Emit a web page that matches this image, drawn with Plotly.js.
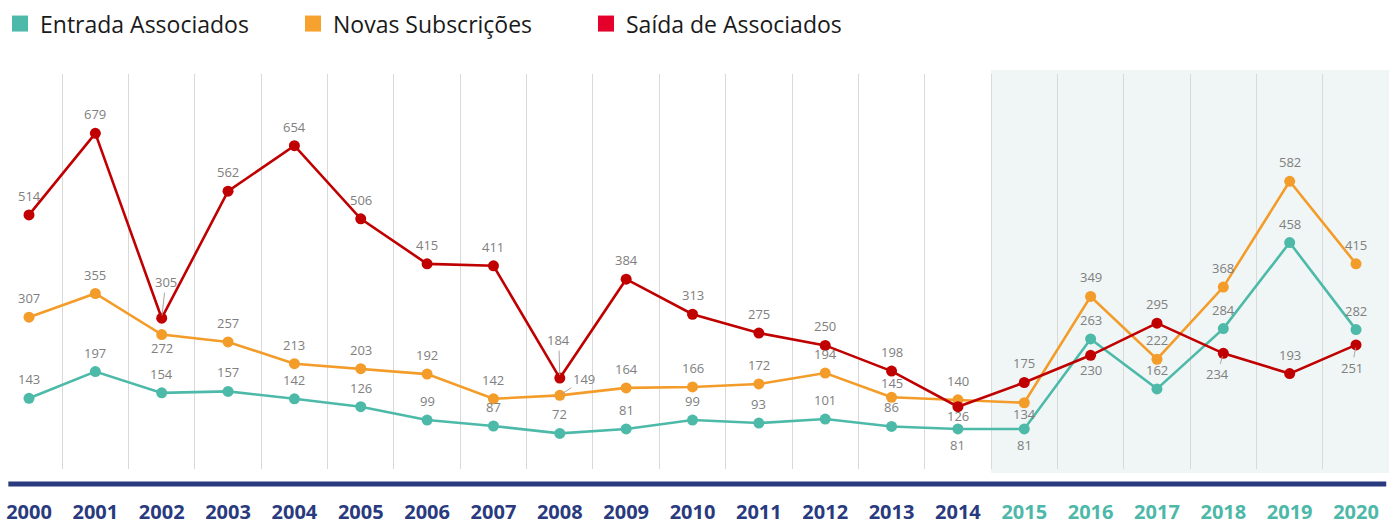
<!DOCTYPE html>
<html>
<head>
<meta charset="utf-8">
<script src="https://cdn.plot.ly/plotly-3.0.1.min.js"></script>
<style>html,body{margin:0;padding:0;background:#fff;}#chart{width:1389px;height:525px;}</style>
</head>
<body>
<div id="chart"></div>
<script>
// ---- data ----
const years = [2000,2001,2002,2003,2004,2005,2006,2007,2008,2009,2010,2011,2012,2013,2014,2015,2016,2017,2018,2019,2020];
const entrada = [143,197,154,157,142,126,99,87,72,81,99,93,101,86,81,81,263,162,284,458,282];
const novas   = [307,355,272,257,213,203,192,142,149,164,166,172,194,145,140,134,349,222,368,582,415];
const saida   = [514,679,305,562,654,506,415,411,184,384,313,275,250,198,126,175,230,295,234,193,251];
const seriesNames = ['Entrada Associados','Novas Subscrições','Saída de Associados'];
const highlightFrom = 2015;

// ---- styles ----
const lineColors = ['#4dbaa9','#f39c29','#c00000'];
const legendColors = ['#4dbaa9','#f7a12e','#e4002b'];
const navy = '#293a7e';
const labelFont = {family:'Open Sans, sans-serif', size:13, color:'#808080'};

// label placement tweaks (pixels): yshift or arrow offsets
const tweaks = {
  0: {2014:{ys:-16}, 2015:{ys:-16}},
  1: {2002:{ys:-13}, 2008:{ax:24, ay:-16}, 2013:{ys:14}, 2015:{ys:-11}},
  2: {2002:{ax:4, ay:-36}, 2008:{ax:-1, ay:-38}, 2014:{ys:-9}, 2016:{ys:-15}, 2018:{ax:-6, ay:21}, 2020:{ax:-4, ay:23}}
};

const allSeries = [entrada, novas, saida];
const traces = [];
allSeries.forEach((vals, s) => {
  traces.push({
    x: years, y: vals, type:'scatter', mode:'lines+markers',
    name: seriesNames[s], showlegend:false, cliponaxis:false,
    line:{color:lineColors[s], width:2.6},
    marker:{color:lineColors[s], size:11},
    hoverinfo:'x+y'
  });
});
// legend entries (square swatches)
seriesNames.forEach((n, s) => {
  traces.push({
    x:[null], y:[null], type:'scatter', mode:'markers', name:n,
    marker:{symbol:'square', size:16, color:legendColors[s]}, showlegend:true
  });
});

const annotations = [];
allSeries.forEach((vals, s) => {
  vals.forEach((v, i) => {
    const t = (tweaks[s] || {})[years[i]] || {};
    const a = {x: years[i], y: v, text: String(v), font: labelFont, xref:'x', yref:'y'};
    if (t.ax !== undefined) {
      Object.assign(a, {showarrow:true, arrowhead:0, arrowwidth:1, arrowcolor:'#a6a6a6', ax:t.ax, ay:t.ay, standoff:3});
    } else {
      Object.assign(a, {showarrow:false, yshift: t.ys !== undefined ? t.ys : 19});
    }
    annotations.push(a);
  });
});

const ticktext = years.map(y => y >= highlightFrom ? '<span style="color:#4db8a8">' + y + '</span>' : String(y));

const layout = {
  width:1389, height:525,
  margin:{l:0, r:0, t:74, b:56, pad:0},
  paper_bgcolor:'#ffffff', plot_bgcolor:'rgba(0,0,0,0)',
  font:{family:'Open Sans, sans-serif'},
  showlegend:true,
  legend:{orientation:'h', x:0, xref:'container', y:0.996, yref:'container', yanchor:'top', xanchor:'left',
          font:{size:23, color:'#1a1a1a', family:'Open Sans, sans-serif'},
          entrywidth:248, entrywidthmode:'pixels', bgcolor:'rgba(0,0,0,0)', itemsizing:'trace'},
  xaxis:{type:'linear', range:[1999.563, 2020.497], tickvals:years, ticktext:ticktext,
         showgrid:false, zeroline:false, showline:false, ticks:'', ticklabelstandoff:29,
         tickfont:{size:20, color:navy, weight:'bold', family:'Open Sans, sans-serif'},
         minor:{tick0:2000.5, dtick:1, showgrid:true, gridcolor:'#d9d9d9', gridwidth:1, ticks:''}},
  yaxis:{range:[0, 799], showgrid:false, zeroline:false, showticklabels:false, showline:false},
  shapes:[
    {type:'rect', xref:'x', yref:'paper', x0:2014.5, x1:2020.6, y0:-0.01, y1:1.01, fillcolor:'#f0f6f5', line:{width:0}, layer:'below'},
    {type:'line', xref:'paper', yref:'paper', x0:0.006, x1:0.998, y0:-0.038, y1:-0.038, line:{color:navy, width:5}}
  ],
  annotations: annotations
};

Plotly.newPlot('chart', traces, layout, {displayModeBar:false, staticPlot:true});
</script>
</body>
</html>
